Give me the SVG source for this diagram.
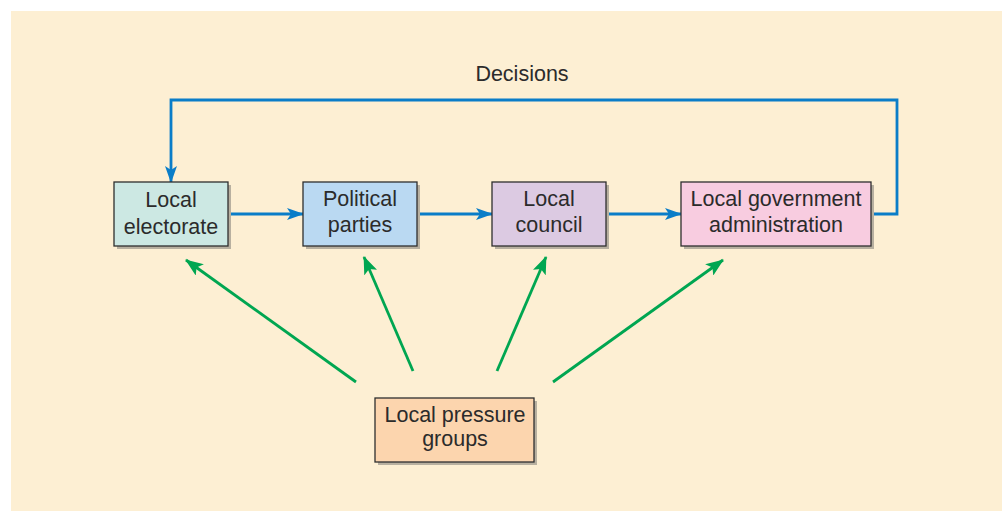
<svg xmlns="http://www.w3.org/2000/svg" width="1003" height="511" viewBox="0 0 1003 511">
<defs>
<style>
.bg{fill:#fdefd3}
.box{stroke:#2e2e2e;stroke-width:1.3}
.shadow{fill:#b8b0a0}
.t{font-family:"Liberation Sans",Arial,sans-serif;font-size:21.5px;fill:#2b2b2b;text-anchor:middle}
.blue{fill:none;stroke:#0a7dc8;stroke-width:2.8}
.green{fill:none;stroke:#00a651;stroke-width:2.8}
</style>
<marker id="ab" viewBox="0 0 17 12" refX="16" refY="6" markerWidth="17" markerHeight="12" markerUnits="userSpaceOnUse" orient="auto">
<path d="M0,0 L17,6 L0,12 L4,6 Z" fill="#0a7dc8"/>
</marker>
<marker id="ag" viewBox="0 0 18 14" refX="17" refY="7" markerWidth="18" markerHeight="14" markerUnits="userSpaceOnUse" orient="auto">
<path d="M0,0 L18,7 L0,14 L4,7 Z" fill="#00a651"/>
</marker>
</defs>
<rect x="0" y="0" width="1003" height="511" fill="#ffffff"/>
<rect class="bg" x="11" y="11" width="991" height="500"/>
<text class="t" x="522" y="81">Decisions</text>
<g id="connectors">
<path class="blue" d="M228,214 L303,214" marker-end="url(#ab)"/>
<path class="blue" d="M417,214 L492,214" marker-end="url(#ab)"/>
<path class="blue" d="M607,214 L681,214" marker-end="url(#ab)"/>
<path class="blue" d="M871,214 L897,214 L897,100 L171,100 L171,182" marker-end="url(#ab)"/>
<path class="green" d="M356,382 L186,260" marker-end="url(#ag)"/>
<path class="green" d="M413,371 L364,257" marker-end="url(#ag)"/>
<path class="green" d="M497,371 L546,257" marker-end="url(#ag)"/>
<path class="green" d="M553,382 L723,260" marker-end="url(#ag)"/>
</g>
<g id="local-electorate">
<rect class="shadow" x="117" y="185" width="114" height="64"/>
<rect class="box" x="114" y="182" width="114" height="64" fill="#cce8e3"/>
<text class="t" x="171" y="207">Local</text>
<text class="t" x="171" y="234">electorate</text>
</g>
<g id="political-parties">
<rect class="shadow" x="306" y="185" width="114" height="64"/>
<rect class="box" x="303" y="182" width="114" height="64" fill="#bad9f2"/>
<text class="t" x="360" y="206">Political</text>
<text class="t" x="360" y="232">parties</text>
</g>
<g id="local-council">
<rect class="shadow" x="495" y="185" width="114" height="64"/>
<rect class="box" x="492" y="182" width="114" height="64" fill="#dccae2"/>
<text class="t" x="549" y="206">Local</text>
<text class="t" x="549" y="232">council</text>
</g>
<g id="local-government-administration">
<rect class="shadow" x="684" y="185" width="190" height="64"/>
<rect class="box" x="681" y="182" width="190" height="64" fill="#f8cce0"/>
<text class="t" x="776" y="206">Local government</text>
<text class="t" x="776" y="232">administration</text>
</g>
<g id="local-pressure-groups">
<rect class="shadow" x="378" y="401" width="159" height="64"/>
<rect class="box" x="375" y="398" width="159" height="64" fill="#fcd5ae"/>
<text class="t" x="455" y="422">Local pressure</text>
<text class="t" x="455" y="446">groups</text>
</g>
</svg>
